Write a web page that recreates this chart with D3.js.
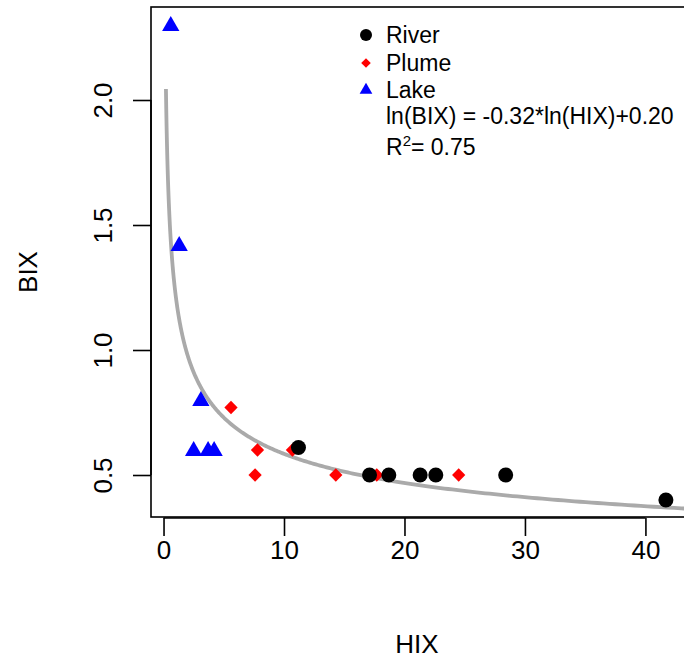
<!DOCTYPE html>
<html>
<head>
<meta charset="utf-8">
<script src="https://cdn.jsdelivr.net/npm/d3@7"></script>
<style>
  html, body { margin: 0; padding: 0; background: #fff; }
  svg text { font-family: "Liberation Sans", Arial, sans-serif; fill: #000; }
</style>
</head>
<body>
<svg id="chart" width="684" height="669"></svg>
<script>
// ---- data ----
const riverHIX = [11.2, 17.1, 18.7, 21.3, 22.6, 28.4, 41.7];
const riverBIX = [0.61, 0.50, 0.50, 0.50, 0.50, 0.50, 0.40];
const plumeHIX = [5.6, 7.8, 7.6, 10.7, 14.3, 17.7, 24.5];
const plumeBIX = [0.77, 0.60, 0.50, 0.60, 0.50, 0.50, 0.50];
const lakeHIX = [0.6, 1.3, 3.1, 2.5, 3.7, 4.2];
const lakeBIX = [2.30, 1.42, 0.80, 0.60, 0.60, 0.60];
const xTicks = [0, 10, 20, 30, 40];
const yTicks = [0.5, 1.0, 1.5, 2.0];
const yTickLabels = ["0.5", "1.0", "1.5", "2.0"];
const legendLabels = ["River", "Plume", "Lake"];
const fitSlope = -0.32, fitIntercept = 0.20;
const fitRange = [0.2, 46];
const eqText = "ln(BIX) = -0.32*ln(HIX)+0.20";
const r2Text = "= 0.75";

const svg = d3.select("#chart");
const box = {left: 151, right: 690, top: 7, bottom: 517};
const x = d3.scaleLinear().domain([-1.04, 43.7]).range([box.left, box.right]);
const y = d3.scaleLinear().domain([0.332, 2.372]).range([box.bottom, box.top]);

svg.append("rect").attr("width", 684).attr("height", 669).attr("fill", "#fff");

// fitted curve: ln(BIX) = a*ln(HIX)+b
const curveX = d3.range(0, 401).map(i => fitRange[0] * Math.pow(fitRange[1] / fitRange[0], i / 400));
const line = d3.line().x(d => x(d)).y(d => y(Math.exp(fitIntercept) * Math.pow(d, fitSlope)));
svg.append("defs").append("clipPath").attr("id", "clip")
  .append("rect").attr("x", box.left).attr("y", box.top)
  .attr("width", box.right - box.left).attr("height", box.bottom - box.top);
svg.append("path").datum(curveX).attr("d", line)
  .attr("fill", "none").attr("stroke", "#aaaaaa").attr("stroke-width", 3.8)
  .attr("clip-path", "url(#clip)");

// points
const diamondSym = d3.symbol().type(d3.symbolSquare);
const triSym = d3.symbol().type(d3.symbolTriangle);

function drawSeries(xs, ys, kind) {
  xs.forEach((hx, i) => {
    const px = x(hx), py = y(ys[i]);
    if (kind === "river") {
      svg.append("circle").attr("cx", px).attr("cy", py).attr("r", 7.5).attr("fill", "#000");
    } else if (kind === "plume") {
      svg.append("path").attr("d", diamondSym.size(88)())
        .attr("transform", `translate(${px},${py}) rotate(45)`).attr("fill", "#ff0000");
    } else {
      svg.append("path").attr("d", triSym.size(130)())
        .attr("transform", `translate(${px},${py + 1})`).attr("fill", "#0000ff");
    }
  });
}
drawSeries(plumeHIX, plumeBIX, "plume");
drawSeries(riverHIX, riverBIX, "river");
drawSeries(lakeHIX, lakeBIX, "lake");

// box
svg.append("rect").attr("x", box.left).attr("y", box.top)
  .attr("width", box.right - box.left).attr("height", box.bottom - box.top)
  .attr("fill", "none").attr("stroke", "#000").attr("stroke-width", 1.6);

// x axis
const xAxis = d3.axisBottom(x).tickValues(xTicks).tickSize(18).tickPadding(5).tickFormat(d3.format("d"));
const gx = svg.append("g").attr("transform", `translate(0,${box.bottom + 1})`).call(xAxis);
gx.select(".domain").attr("d", `M${x(0)},0H${x(40)}`).attr("stroke-width", 1.6);
gx.selectAll(".tick line").attr("stroke-width", 1.6);
gx.selectAll(".tick text").attr("font-size", 26).attr("font-family", "Liberation Sans");

// y axis
const yAxis = d3.axisLeft(y).tickValues(yTicks).tickSize(18).tickFormat((d, i) => yTickLabels[i]);
const gy = svg.append("g").attr("transform", `translate(${box.left},0)`).call(yAxis);
gy.select(".domain").attr("d", `M0,${y(0.5)}V${y(2.0)}`).attr("stroke-width", 1.6);
gy.selectAll(".tick line").attr("stroke-width", 1.6);
gy.selectAll(".tick text")
  .attr("font-size", 26).attr("font-family", "Liberation Sans")
  .attr("x", null).attr("dy", null)
  .attr("text-anchor", "middle")
  .attr("transform", "translate(-39,0) rotate(-90)");

// axis titles
svg.append("text").attr("x", 417).attr("y", 653).attr("text-anchor", "middle")
  .attr("font-size", 26).text("HIX");
svg.append("text").attr("transform", `translate(37,${(box.top + box.bottom) / 2 + 10}) rotate(-90)`)
  .attr("text-anchor", "middle").attr("font-size", 26).text("BIX");

// legend
const legY = [35, 63, 90];
const legX = 366;
svg.append("circle").attr("cx", legX).attr("cy", legY[0]).attr("r", 6).attr("fill", "#000");
svg.append("path").attr("d", diamondSym.size(46)()).attr("transform", `translate(${legX},${legY[1]}) rotate(45)`).attr("fill", "#ff0000");
svg.append("path").attr("d", triSym.size(70)()).attr("transform", `translate(${legX},${legY[2]})`).attr("fill", "#0000ff");
legendLabels.forEach((t, i) => {
  svg.append("text").attr("x", 386).attr("y", legY[i] + 8).attr("font-size", 23).text(t);
});
svg.append("text").attr("x", 386).attr("y", 124).attr("font-size", 23).text(eqText);
const r2 = svg.append("text").attr("x", 386).attr("y", 155).attr("font-size", 23);
r2.append("tspan").text("R");
r2.append("tspan").attr("font-size", 15).attr("dy", -9).text("2");
r2.append("tspan").attr("dy", 9).text(r2Text);
</script>
</body>
</html>
